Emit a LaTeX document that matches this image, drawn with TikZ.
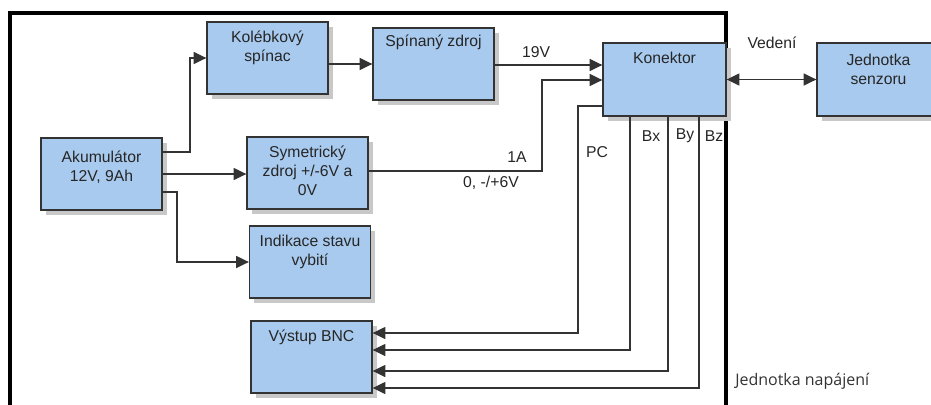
\documentclass[tikz,border=0pt]{standalone}
\usepackage{fontspec}
\setmainfont{Liberation Sans}
\newfontfamily\popisfont{Open Sans}
\usetikzlibrary{arrows.meta,shadows}

\definecolor{modra}{RGB}{168,202,238}
\definecolor{okraj}{RGB}{51,51,51}
\definecolor{stin}{RGB}{200,200,200}

\tikzset{
  blok/.style={draw=okraj,line width=1pt,fill=modra,minimum width=90.75pt,minimum height=54pt,inner sep=0pt,
    drop shadow={shadow xshift=3.5pt,shadow yshift=-3.5pt,fill=stin,opacity=1}},
  napis/.style={anchor=north,inner sep=0pt,align=center,yshift=-6.75pt,text=black!85,
    font=\fontsize{11.8pt}{14.25pt}\selectfont},
  txt/.style={inner sep=0pt,text=black!85,font=\fontsize{11.8pt}{14.25pt}\selectfont},
  spoj/.style={draw=black!80,line width=0.9pt,-{Triangle[length=9.5pt,width=9pt]}},
  spoj2/.style={draw=black!80,line width=0.9pt,{Triangle[length=9.5pt,width=9pt]}-{Triangle[length=9.5pt,width=9pt]}}
}

\begin{document}
\begin{tikzpicture}[x=0.75pt,y=-0.75pt]
\useasboundingbox (0,0) rectangle (931,404);

% ramecek jednotky napajeni
\draw[line width=2.4pt] (10,430)--(10,13)--(726,13)--(726,430);

% bloky
\node[blok,label={[napis,yshift=-3pt]north:Akumulátor\\12V, 9Ah}] (akum) at (101.5,174) {};
\node[blok,label={[napis]north:Kolébkový\\spínac}] (kol) at (267.5,58) {};
\node[blok,label={[napis,yshift=1.5pt]north:Spínaný zdroj}] (spin) at (433.5,64) {};
\node[blok,label={[napis]north:Symetrický\\zdroj +/-6V a\\0V}] (sym) at (307.5,173) {};
\node[blok,label={[napis]north:Indikace stavu\\vybití}] (ind) at (310,262) {};
\node[blok,label={[napis]north:Výstup BNC}] (bnc) at (311.5,357) {};
\node[blok,minimum width=92.25pt,minimum height=54.75pt,label={[napis]north:Konektor}] (kon) at (664.5,79.5) {};
\node[blok,minimum width=92.25pt,minimum height=54.75pt,label={[napis,yshift=-2pt]north:Jednotka\\senzoru}] (sen) at (878.5,79.5) {};

% spoje
\draw[spoj] (akum.east |- 0,152)--(190,152) |- (kol.west);
\draw[spoj] (akum.east)--(akum.east -| sym.west);
\draw[spoj] (akum.east |- 0,192)--(177,192) |- (ind.west);
\draw[spoj] (kol.east |- spin.west)--(spin.west);
\draw[spoj] (spin.east |- 0,65)--(kon.west |- 0,65);
\draw[spoj] (sym.east |- 0,171)--(542,171) |- (kon.west |- 0,80);
\draw[spoj2] (kon.east)--(sen.west);
\draw[spoj] (kon.west |- 0,106)--(578,106) |- (bnc.east |- 0,333);
\draw[spoj] (kon.south -| 630,0) |- (bnc.east |- 0,350);
\draw[spoj] (kon.south -| 668,0) |- (bnc.east |- 0,371);
\draw[spoj] (kon.south -| 699,0) |- (bnc.east |- 0,388);

% popisky
\node[txt] (u19) at (536,52) {19V};
\node[txt] (i1) at (517,157) {1A};
\node[txt] (u6) at (491,183) {0, -/+6V};
\node[txt] (pc) at (597,152) {PC};
\node[txt] (bx) at (651,136) {Bx};
\node[txt] (by) at (685,136) {By};
\node[txt] (bz) at (714,136) {Bz};
\node[txt] (ved) at (772,43) {Vedení};
\node[txt,anchor=west,text=black!80,font=\popisfont\fontsize{12pt}{14pt}\selectfont] (jn) at (735,381) {Jednotka napájení};
\end{tikzpicture}
\end{document}
